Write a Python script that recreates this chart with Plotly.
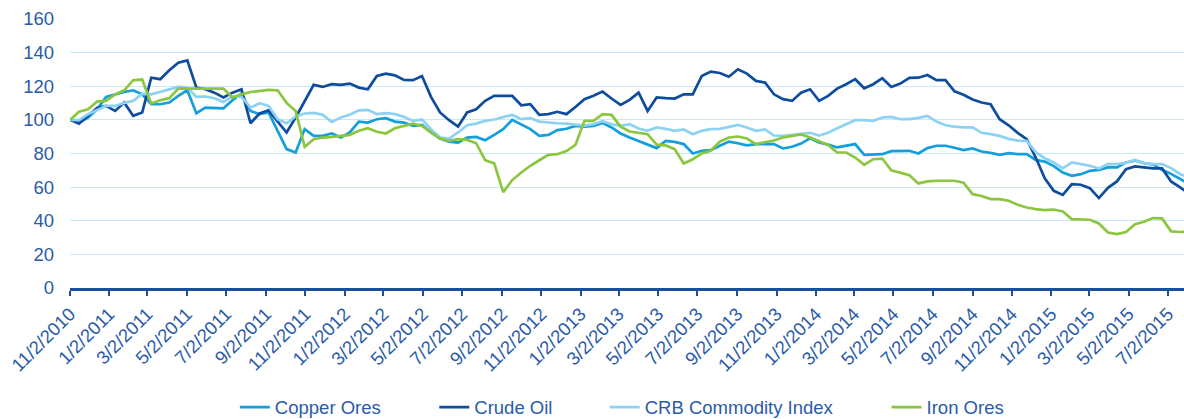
import plotly.graph_objects as go
import pandas as pd

# ---- data ----
start_date = "2010-11-02"
n_points = 125
dates = pd.date_range(start_date, periods=n_points, freq="14D")

copper_ores = [
    100, 98.6, 101.4, 106.3, 113.7, 115.2, 116.6, 117.6, 115.2, 109.3,
    109.3, 110.3, 114.3, 117.6, 104, 107.3, 106.9, 106.9, 111.7,
    115.6, 105.3, 103.4, 104.4, 93.5, 82.6, 80.6, 94.5, 90.5, 90.5, 91.9, 89.5, 92.5, 99, 98.4, 100.4, 101, 99,
    98.4, 96.4, 97, 92.5, 88.9, 87.1, 86.5, 89.5, 89.9, 87.9, 91.1, 94.5, 100, 97, 94.5, 90.5, 91.1, 93.9,
    94.7, 96.4, 96, 96.4, 98.2, 95.5, 91.9, 89.5, 87.5, 85.6, 83.2, 87.5, 86.9, 85.6, 80, 81.6, 82, 84.6, 87.1,
    86.1, 84.8, 85.6, 85.6, 85.6, 83, 84, 85.9, 89.1, 86.5, 85.3, 83.6, 84.6, 85.6, 79.2, 79.2, 79.6, 81.4,
    81.6, 81.6, 80, 83.2, 84.6, 84.6, 83.4, 82, 83, 81.2, 80.4, 79.2, 80.2, 79.6, 79.6, 76.2, 75.2, 72.5,
    68.7, 66.7, 67.7, 69.7, 70.3, 71.7, 71.7, 74.7, 75.8, 74.3, 73.5, 70.3, 67.9, 64.6, 61.8,
]

crude_oil = [
    100, 97.8, 102.4, 107, 108.3, 105.3, 110.3, 102.4, 104.4, 125.1,
    124.2, 129.5, 134, 135.4, 119.2, 118.2, 116.2, 113.3, 116.2,
    118.2, 98, 103.8, 105.7, 99.4, 92.5, 101.4, 111.3, 120.8, 119.6, 121.2, 120.8, 121.6, 119.2, 118.2, 126.1, 127.5, 126.5,
    123.8, 123.6, 126.1, 113.7, 104.4, 99.8, 96, 104.4, 106.3, 111.3, 114.3, 114.3, 114.3, 108.7, 109.3, 103, 103.4, 104.8,
    103.4, 107.7, 112.3, 114.3, 116.8, 112.7, 108.9, 111.9, 116.2, 105.3, 113.3, 112.9, 112.7, 115.2, 115.2, 126.1, 128.7, 127.9, 125.7,
    130.1, 127.5, 123.2, 122.2, 115.2, 112.3, 111.3, 116.2, 118.2, 111.3, 114.3, 118.6, 121.2, 124.2, 118.8, 121.2, 124.8, 119.6,
    121.6, 125, 125.1, 126.7, 123.6, 123.6, 117, 114.9, 112.1, 110.3, 109.3, 100.4, 96.8, 92.3, 88.5, 77.6, 65.3, 57.8,
    55.4, 61.8, 61.4, 59.4, 53.5, 59.6, 63.4, 70.7, 72.3, 71.5, 71.1, 71.1, 63.4, 59.8, 56.2,
]

crb_index = [
    100, 99.8, 103.4, 106, 108.3, 108.3, 110.1, 111.3, 115.6, 115.2,
    116.8, 118.2, 119.6, 119.2, 113.7, 113.9, 112.9, 110.7, 113.9,
    113.7, 107.3, 109.9, 108.3, 100.4, 98, 102, 103.8, 104.2, 103, 98.8, 101.4, 103, 105.7, 106, 103.4, 104, 103.4,
    101.8, 99.4, 100.2, 94.5, 89.5, 88.9, 92.5, 96.8, 97.8, 99.4, 100.2, 101.4, 103, 100.4, 101, 99, 98.4, 98,
    97.8, 97, 96.6, 97.4, 99.2, 97.4, 96.4, 97.4, 94.9, 93.5, 95.5, 94.7, 93.5, 94.3, 91.5, 93.5, 94.5, 94.7, 95.8,
    97, 95.5, 93.5, 94.3, 90.7, 90.5, 91.1, 91.9, 92.3, 90.7, 92.3, 95, 97.4, 99.8, 99.8, 99.4, 101.4, 101.8,
    100.4, 100.4, 101.2, 102.4, 99, 96.8, 96, 95.5, 95.5, 92.3, 91.5, 90.5, 88.7, 87.7, 87.5, 80.8, 77.2, 74.7,
    71.1, 74.7, 73.7, 72.7, 71.1, 73.7, 73.7, 74.5, 76.2, 74.3, 73.7, 73.7, 71.3, 67.7, 65.7,
]

iron_ores = [
    100, 104.8, 106.3, 110.9, 111.3, 115.2, 117.6, 123.6, 124, 109.7,
    111.7, 112.9, 118.6, 118.6, 118.6, 118.6, 118.6, 118.6, 113.3,
    115.2, 116.6, 117.2, 117.8, 117.6, 110.1, 105.3, 84, 88.5, 89.5, 89.9, 90.3, 91.1, 93.5, 95, 92.9, 91.9, 95,
    96.4, 97.8, 96.4, 92.5, 88.9, 87.5, 88.5, 88.1, 86.1, 76, 74.1, 57, 64.2, 68.7, 72.7, 76, 79.2, 79.6,
    81.4, 85.1, 99.4, 99.4, 103.4, 103, 96, 93.1, 92.5, 91.5, 85.3, 84.8, 82.6, 74.1, 76.6, 80, 81.6, 87.1, 89.5,
    90.1, 88.9, 85.6, 86.7, 87.7, 89.5, 90.5, 91.3, 89.5, 87.1, 85.1, 80.6, 80.6, 77.6, 73.3, 76.6, 77, 70,
    68.7, 67.1, 62.2, 63.4, 63.8, 63.8, 63.8, 62.6, 55.8, 54.7, 52.9, 52.9, 51.9, 49.5, 47.9, 46.9, 46.3, 46.7,
    45.5, 41, 41, 40.6, 38.4, 33, 32.1, 33.3, 38, 39.4, 41.6, 41.4, 33.7, 33.3, 33.5,
]

series_names = ["Copper Ores", "Crude Oil", "CRB Commodity Index", "Iron Ores"]

tick_dates = [
    "2010-11-02", "2011-01-02", "2011-03-02", "2011-05-02", "2011-07-02", "2011-09-02",
    "2011-11-02", "2012-01-02", "2012-03-02", "2012-05-02", "2012-07-02", "2012-09-02",
    "2012-11-02", "2013-01-02", "2013-03-02", "2013-05-02", "2013-07-02", "2013-09-02",
    "2013-11-02", "2014-01-02", "2014-03-02", "2014-05-02", "2014-07-02", "2014-09-02",
    "2014-11-02", "2015-01-02", "2015-03-02", "2015-05-02", "2015-07-02",
]
tick_labels = [
    "11/2/2010", "1/2/2011", "3/2/2011", "5/2/2011", "7/2/2011", "9/2/2011",
    "11/2/2011", "1/2/2012", "3/2/2012", "5/2/2012", "7/2/2012", "9/2/2012",
    "11/2/2012", "1/2/2013", "3/2/2013", "5/2/2013", "7/2/2013", "9/2/2013",
    "11/2/2013", "1/2/2014", "3/2/2014", "5/2/2014", "7/2/2014", "9/2/2014",
    "11/2/2014", "1/2/2015", "3/2/2015", "5/2/2015", "7/2/2015",
]
y_ticks = [0, 20, 40, 60, 80, 100, 120, 140, 160]

# ---- styling ----
colors = ["#129FDC", "#0F4C9E", "#8DD2F3", "#8CC63F"]
text_color = "#2A5BA8"
axis_color = "#1B4F9E"
font_family = "Liberation Sans, Arial, sans-serif"

fig = go.Figure()
all_values = [copper_ores, crude_oil, crb_index, iron_ores]
legend_ids = ["legend", "legend2", "legend3", "legend4"]
for name, vals, col, lg in zip(series_names, all_values, colors, legend_ids):
    fig.add_trace(go.Scatter(
        x=dates, y=vals, name=name, mode="lines",
        line=dict(color=col, width=2.7),
        legend=lg,
    ))

legend_x = [0.148, 0.327, 0.480, 0.733]
legend_common = dict(
    orientation="h", xanchor="left", yanchor="middle",
    yref="container", y=0.027,
    font=dict(family=font_family, size=18.5, color=text_color),
    bgcolor="rgba(0,0,0,0)",
)
layout_legends = {}
for lg, lx in zip(legend_ids, legend_x):
    layout_legends[lg] = dict(legend_common, x=lx)

fig.update_layout(
    width=1184, height=419,
    margin=dict(l=70, r=0, t=19, b=131, autoexpand=False),
    plot_bgcolor="white", paper_bgcolor="white",
    font=dict(family=font_family, size=18.5, color=text_color),
    showlegend=True,
    **layout_legends,
)
fig.update_xaxes(
    type="date", range=["2010-11-02", "2015-07-27"],
    tickvals=tick_dates, ticktext=tick_labels, tickangle=-45,
    showgrid=False, zeroline=False, automargin=False,
    showline=True, linecolor=axis_color, linewidth=3,
    ticks="outside", ticklen=5, tickwidth=2, tickcolor=axis_color,
)
fig.update_yaxes(
    range=[0, 160], tickvals=y_ticks, automargin=False,
    showgrid=True, gridcolor="#C8E9F8", gridwidth=1.3,
    zeroline=False, showline=False, ticks="", ticklabelstandoff=15,
)

fig.write_html(
    "out.html",
    config={"displayModeBar": False},
    post_script="document.body.style.margin='0';document.body.style.overflow='hidden';",
)
